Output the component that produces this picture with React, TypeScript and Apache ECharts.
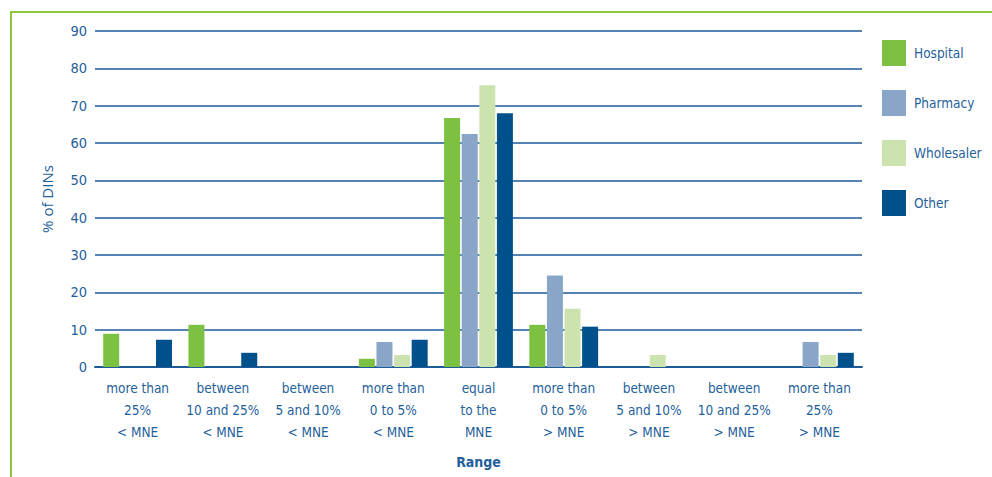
import React, { useEffect, useRef } from "react";
import * as echarts from "echarts";

const categories = [
  "more than\n25%\n< MNE",
  "between\n10 and 25%\n< MNE",
  "between\n5 and 10%\n< MNE",
  "more than\n0 to 5%\n< MNE",
  "equal\nto the\nMNE",
  "more than\n0 to 5%\n> MNE",
  "between\n5 and 10%\n> MNE",
  "between\n10 and 25%\n> MNE",
  "more than\n25%\n> MNE",
];
const hospital = [8.9, 11.3, 0, 2.2, 66.7, 11.3, 0, 0, 0];
const pharmacy = [0, 0, 0, 6.7, 62.4, 24.5, 0, 0, 6.7];
const wholesaler = [0, 0, 0, 3.2, 75.5, 15.6, 3.2, 0, 3.2];
const other = [7.3, 3.8, 0, 7.3, 68.0, 10.8, 0, 0, 3.8];
const yTicks = { min: 0, max: 90, interval: 10 };

const TEXT = "#1f5f9c";
const LINE = "#1d5a98";
const FONT = "'DejaVu Sans Condensed', sans-serif";

export default function App() {
  const ref = useRef<HTMLDivElement>(null);
  useEffect(() => {
    const chart = echarts.init(ref.current!, undefined, { renderer: "svg" });
    const mk = (name: string, data: number[], color: string) => ({
      name,
      type: "bar",
      data,
      barWidth: 16,
      barGap: "10%",
      itemStyle: { color },
    });
    chart.setOption({
      animation: false,
      textStyle: { fontFamily: FONT },
      graphic: [
        { type: "rect", shape: { x: 10, y: 11, width: 990, height: 2 }, style: { fill: "#8cc63f" } },
        { type: "rect", shape: { x: 10, y: 11, width: 2, height: 470 }, style: { fill: "#8cc63f" } },
      ],
      legend: {
        orient: "vertical",
        left: 882,
        top: 40,
        padding: 0,
        itemWidth: 24,
        itemHeight: 26,
        itemGap: 24,
        icon: "rect",
        textStyle: { color: TEXT, fontSize: 13.5, fontFamily: FONT, padding: [0, 0, 0, 3] },
      },
      grid: { left: 95, right: 130, top: 31, bottom: 110 },
      xAxis: {
        type: "category",
        data: categories,
        name: "Range",
        nameLocation: "middle",
        nameGap: 88,
        nameTextStyle: { color: TEXT, fontWeight: "bold", fontSize: 14, fontFamily: FONT },
        axisLine: { lineStyle: { color: LINE, width: 2 } },
        axisTick: { inside: true, length: 6, lineStyle: { color: LINE, width: 1.5 } },
        axisLabel: { color: TEXT, fontSize: 13.5, lineHeight: 22, margin: 10, interval: 0, fontFamily: FONT },
      },
      yAxis: {
        type: "value",
        min: yTicks.min,
        max: yTicks.max,
        interval: yTicks.interval,
        name: "% of DINs",
        nameLocation: "middle",
        nameGap: 41,
        nameTextStyle: { color: TEXT, fontSize: 15, fontFamily: "'Open Sans', sans-serif" },
        axisLine: { show: false },
        axisTick: { show: false },
        axisLabel: { color: TEXT, fontSize: 14.5, margin: 8, fontFamily: FONT },
        splitLine: { lineStyle: { color: LINE, width: 1.5 } },
      },
      series: [
        mk("Hospital", hospital, "#7dc142"),
        mk("Pharmacy", pharmacy, "#89a6c9"),
        mk("Wholesaler", wholesaler, "#cce3b0"),
        mk("Other", other, "#00518b"),
      ],
    });
    return () => chart.dispose();
  }, []);
  return (
    <div
      ref={ref}
      style={{ position: "fixed", left: 0, top: 0, width: 992, height: 477, background: "#fff" }}
    />
  );
}
